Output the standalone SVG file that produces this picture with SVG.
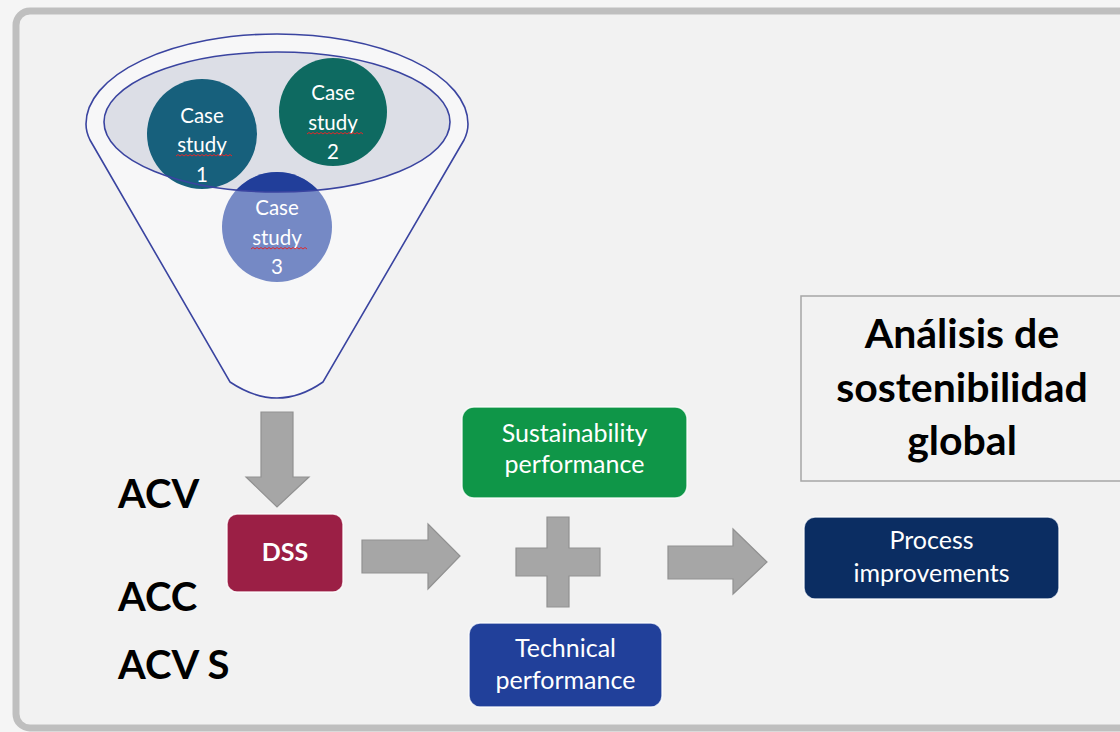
<svg xmlns="http://www.w3.org/2000/svg" width="1120" height="732" viewBox="0 0 1120 732">
  <defs>
    <style>
      .frame { fill: #f2f2f2; stroke: #bfbfbf; stroke-width: 7; }
      .funnel { fill: #f7f7f8; stroke: #3a44a0; stroke-width: 1.6; }
      .inner { fill: #dcdee6; stroke: none; }
      .innerline { fill: none; stroke: #3a44a0; stroke-width: 1.6; }
      .ctext { font-family: Lato, "Open Sans", sans-serif; font-size: 20.5px; fill: #ffffff; text-anchor: middle; }
      .squig { fill: none; stroke: #e0282a; stroke-width: 1; }
      .arrow { fill: #a6a6a6; stroke: #919191; stroke-width: 1.2; }
      .box { stroke: #ffffff; stroke-opacity: 0.8; stroke-width: 1.5; }
      .btext { font-family: Lato, "Open Sans", sans-serif; font-size: 25px; fill: #ffffff; text-anchor: middle; }
      .bold { font-family: Lato, "Open Sans", sans-serif; font-weight: bold; fill: #000000; }
    </style>
    <clipPath id="innerClip">
      <ellipse cx="277" cy="122" rx="173" ry="70"/>
    </clipPath>
  </defs>

  <rect x="0" y="0" width="1120" height="732" fill="#f5f5f5"/>
  <rect class="frame" x="16" y="11" width="1130" height="717" rx="14"/>

  <g id="funnel">
    <path class="funnel" d="M 86 124 A 191 90 0 0 1 468 124 C 468 130 467 134 464 140 L 323 382 Q 300 398 277 398 Q 254 398 230 382 L 90 140 C 87 134 86 130 86 124 Z"/>
    <ellipse class="inner" cx="277" cy="122" rx="173" ry="70"/>
  </g>

  <g id="case-study-1">
    <circle cx="202" cy="134" r="55" fill="#17607c"/>
  </g>
  <g id="case-study-2">
    <circle cx="333" cy="112" r="54" fill="#0e6a61"/>
  </g>
  <g id="case-study-3">
    <circle cx="277" cy="227" r="55" fill="#7589c5"/>
    <circle cx="277" cy="227" r="55" fill="#213e9a" clip-path="url(#innerClip)"/>
  </g>
  <ellipse class="innerline" cx="277" cy="122" rx="173" ry="70"/>

  <g id="case-study-texts">
    <text class="ctext" x="202" y="123">Case</text>
    <text class="ctext" x="202" y="152">study</text>
    <text class="ctext" x="202" y="182">1</text>
    <path class="squig" d="M 176 156 l2 -1.5 l2 1.5 l2 -1.5 l2 1.5 l2 -1.5 l2 1.5 l2 -1.5 l2 1.5 l2 -1.5 l2 1.5 l2 -1.5 l2 1.5 l2 -1.5 l2 1.5 l2 -1.5 l2 1.5 l2 -1.5 l2 1.5 l2 -1.5 l2 1.5 l2 -1.5 l2 1.5 l2 -1.5 l2 1.5 l2 -1.5 l2 1.5 l2 -1.5 l2 1.5"/>
    <text class="ctext" x="333" y="100">Case</text>
    <text class="ctext" x="333" y="130">study</text>
    <text class="ctext" x="333" y="159">2</text>
    <path class="squig" d="M 307 134 l2 -1.5 l2 1.5 l2 -1.5 l2 1.5 l2 -1.5 l2 1.5 l2 -1.5 l2 1.5 l2 -1.5 l2 1.5 l2 -1.5 l2 1.5 l2 -1.5 l2 1.5 l2 -1.5 l2 1.5 l2 -1.5 l2 1.5 l2 -1.5 l2 1.5 l2 -1.5 l2 1.5 l2 -1.5 l2 1.5 l2 -1.5 l2 1.5 l2 -1.5 l2 1.5"/>
    <text class="ctext" x="277" y="215">Case</text>
    <text class="ctext" x="277" y="245">study</text>
    <text class="ctext" x="277" y="274">3</text>
    <path class="squig" d="M 251 249 l2 -1.5 l2 1.5 l2 -1.5 l2 1.5 l2 -1.5 l2 1.5 l2 -1.5 l2 1.5 l2 -1.5 l2 1.5 l2 -1.5 l2 1.5 l2 -1.5 l2 1.5 l2 -1.5 l2 1.5 l2 -1.5 l2 1.5 l2 -1.5 l2 1.5 l2 -1.5 l2 1.5 l2 -1.5 l2 1.5 l2 -1.5 l2 1.5 l2 -1.5 l2 1.5"/>
  </g>

  <g id="connectors">
    <path class="arrow" d="M 261 412 L 293 412 L 293 477 L 309 477 L 277 507 L 246 477 L 261 477 Z"/>
    <path class="arrow" d="M 362 540 L 428 540 L 428 524 L 460 556 L 428 589 L 428 573 L 362 573 Z"/>
    <path class="arrow" d="M 547 517 L 569 517 L 569 548 L 600 548 L 600 576 L 569 576 L 569 607 L 547 607 L 547 576 L 516 576 L 516 548 L 547 548 Z"/>
    <path class="arrow" d="M 668 546 L 733 546 L 733 529 L 767 562 L 733 594 L 733 579 L 668 579 Z"/>
  </g>

  <g id="dss">
    <rect class="box" x="227" y="514" width="116" height="78" rx="10" fill="#9b1f45"/>
    <text class="btext" x="285" y="561" font-weight="bold" font-size="22">DSS</text>
  </g>

  <g id="sustainability">
    <rect class="box" x="462" y="407" width="225" height="91" rx="12" fill="#0f9648"/>
    <text class="btext" x="574.5" y="442">Sustainability</text>
    <text class="btext" x="574.5" y="473">performance</text>
  </g>

  <g id="technical">
    <rect class="box" x="469" y="623" width="193" height="84" rx="11" fill="#21409a"/>
    <text class="btext" x="565.5" y="657">Technical</text>
    <text class="btext" x="565.5" y="689">performance</text>
  </g>

  <g id="process">
    <rect class="box" x="804" y="517" width="255" height="82" rx="11" fill="#0b2d62"/>
    <text class="btext" x="931.5" y="549">Process</text>
    <text class="btext" x="931.5" y="582">improvements</text>
  </g>

  <g id="analisis">
    <rect x="801" y="296" width="330" height="185" fill="none" stroke="#a6a6a6" stroke-width="1.5"/>
    <text class="bold" x="962" y="348" font-size="41" text-anchor="middle">Análisis de</text>
    <text class="bold" x="962" y="402" font-size="41" text-anchor="middle">sostenibilidad</text>
    <text class="bold" x="962" y="455" font-size="41" text-anchor="middle">global</text>
  </g>

  <g id="labels">
    <text class="bold" x="118" y="508" font-size="40">ACV</text>
    <text class="bold" x="118" y="611" font-size="40">ACC</text>
    <text class="bold" x="118" y="679" font-size="40">ACV S</text>
  </g>
</svg>
